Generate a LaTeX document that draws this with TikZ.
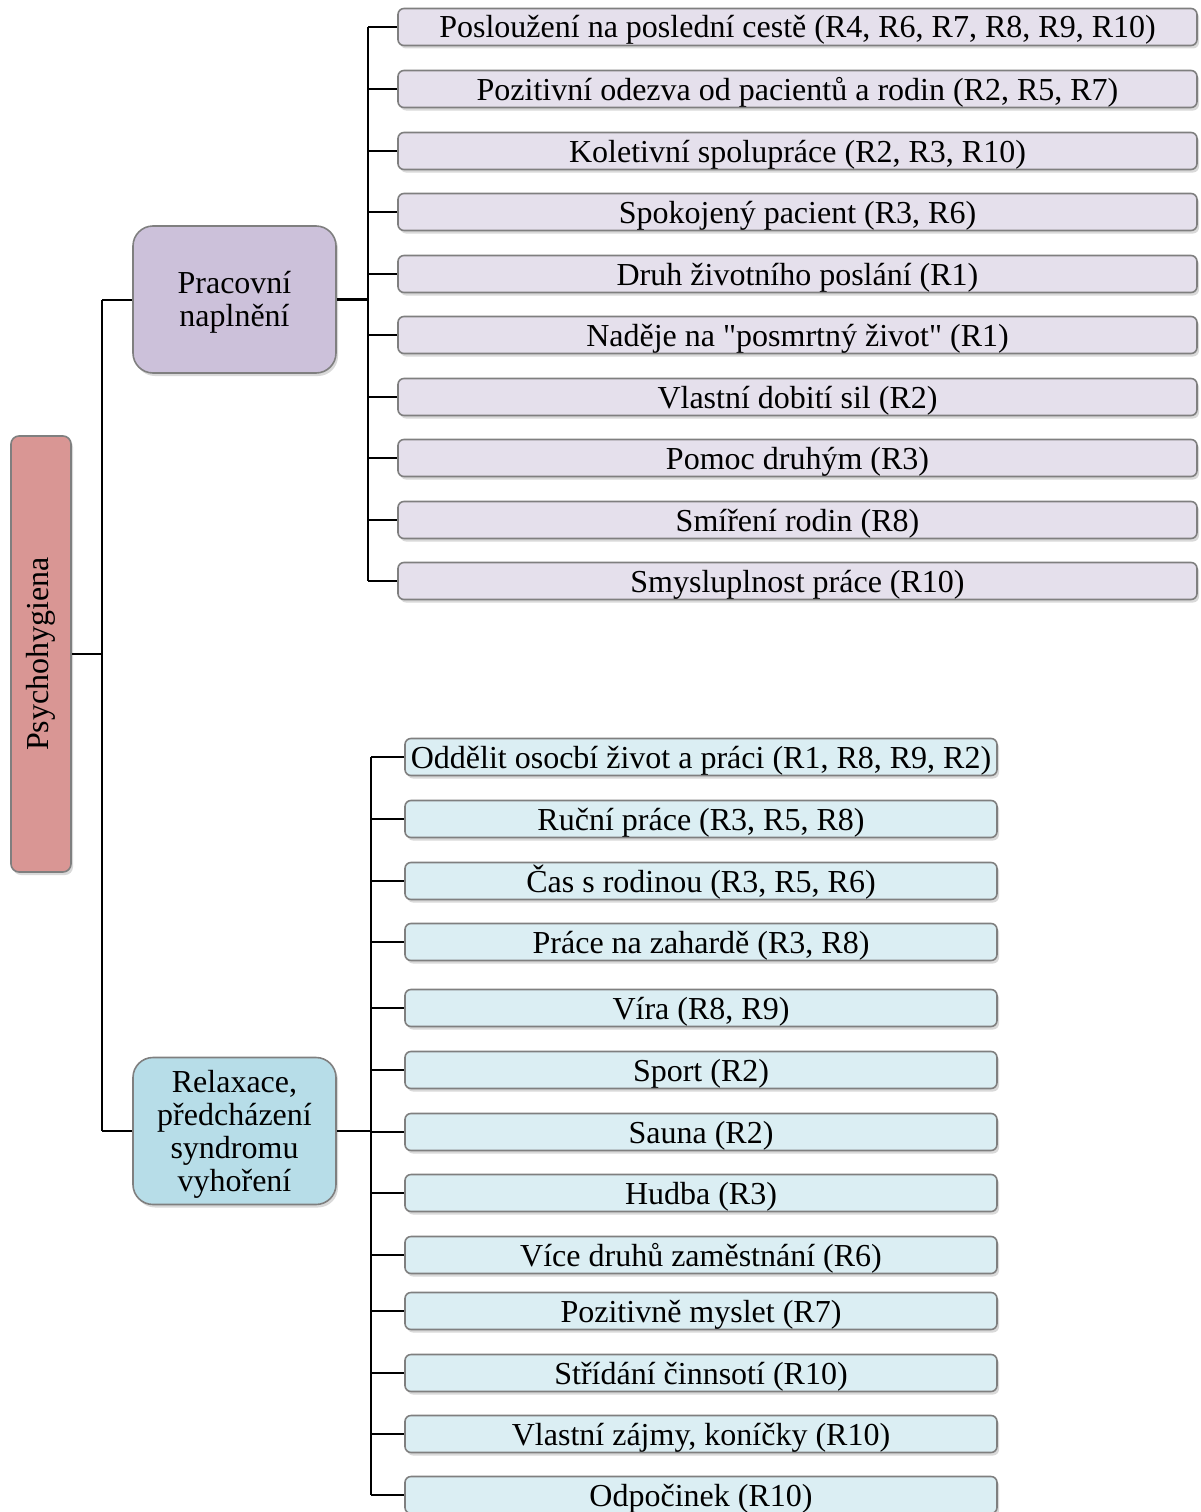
\documentclass[tikz,border=0pt]{standalone}
\usepackage{fontspec}
\setmainfont{Liberation Serif}[Ligatures=TeXOff]
\usetikzlibrary{shadows}
\definecolor{rootfill}{HTML}{D99694}
\definecolor{workfill}{HTML}{CCC1DA}
\definecolor{workleaf}{HTML}{E5E0EC}
\definecolor{relaxfill}{HTML}{B7DDE8}
\definecolor{relaxleaf}{HTML}{DBEEF3}
\definecolor{boxline}{HTML}{7F7F7F}
\begin{document}
\begin{tikzpicture}[x=1pt,y=-1pt,
  font=\fontsize{32}{33}\selectfont,
  box/.style={draw=boxline,line width=1.6pt,inner sep=0pt,align=center,
    drop shadow={shadow xshift=2pt,shadow yshift=-3pt,opacity=0.3}},
  rootbox/.style={box,fill=rootfill,rounded corners=8pt,minimum width=60pt,minimum height=436pt},
  midbox/.style={box,rounded corners=20pt,minimum width=203pt,minimum height=147pt},
  midlabel/.style={align=center,inner sep=0pt,yshift=-3pt},
  item/.style={box,rounded corners=6pt,minimum height=37pt,text height=28pt,text depth=6pt},
  workitem/.style={item,fill=workleaf,minimum width=799pt},
  relaxitem/.style={item,fill=relaxleaf,minimum width=592pt},
  conn/.style={draw=black,line width=2pt},
  trunk/.style={draw=black,line width=2.6pt}]
\useasboundingbox (0,0) rectangle (1200,1512);

% root
\node[rootbox] (root) at (41,654) {};
\node[rotate=90] (rootlabel) at (root.center) {Psychohygiena};

% two main branches
\node[midbox,fill=workfill] (work) at (234.5,299.5) {};
\node[midlabel] (worklabel) at (work.center) {Pracovní\\naplnění};
\node[midbox,fill=relaxfill] (relax) at (234.5,1131) {};
\node[midlabel] (relaxlabel) at (relax.center) {Relaxace,\\předcházení\\syndromu\\vyhoření};

% root connector
\coordinate (rbus) at (102,654);
\draw[conn] (root.east) -- (rbus);
\draw[conn] (rbus |- work.west) -- (rbus |- relax.west);
\draw[conn] (rbus |- work.west) -- (work.west);
\draw[conn] (rbus |- relax.west) -- (relax.west);

% work items
\foreach \n/\y/\t in {
  w1/27/{Posloužení na poslední cestě (R4, R6, R7, R8, R9, R10)},
  w2/89/{Pozitivní odezva od pacientů a rodin (R2, R5, R7)},
  w3/151/{Koletivní spolupráce (R2, R3, R10)},
  w4/212/{Spokojený pacient (R3, R6)},
  w5/274/{Druh životního poslání (R1)},
  w6/335/{Naděje na "posmrtný život" (R1)},
  w7/397/{Vlastní dobití sil (R2)},
  w8/458/{Pomoc druhým (R3)},
  w9/520/{Smíření rodin (R8)},
  w10/581/{Smysluplnost práce (R10)}}
  \node[workitem] (\n) at (797.5,\y) {\t};

\coordinate (wbus) at (368,299.5);
\draw[trunk] (work.east) -- (wbus);
\draw[conn] (wbus |- w1.west) -- (wbus |- w10.west);
\foreach \n in {w1,w2,w3,w4,w5,w6,w7,w8,w9,w10}
  \draw[conn] (wbus |- \n.west) -- (\n.west);

% relaxation items
\foreach \n/\y/\t in {
  r1/757/{Oddělit osocbí život a práci (R1, R8, R9, R2)},
  r2/819/{Ruční práce (R3, R5, R8)},
  r3/881/{Čas s rodinou (R3, R5, R6)},
  r4/942/{Práce na zahardě (R3, R8)},
  r5/1008/{Víra (R8, R9)},
  r6/1070/{Sport (R2)},
  r7/1132/{Sauna (R2)},
  r8/1193/{Hudba (R3)},
  r9/1255/{Více druhů zaměstnání (R6)},
  r10/1311/{Pozitivně myslet (R7)},
  r11/1373/{Střídání činnsotí (R10)},
  r12/1434/{Vlastní zájmy, koníčky (R10)},
  r13/1495/{Odpočinek (R10)}}
  \node[relaxitem] (\n) at (701,\y) {\t};

\coordinate (xbus) at (371,1131);
\draw[trunk] (relax.east) -- (xbus);
\draw[conn] (xbus |- r1.west) -- (xbus |- r13.west);
\foreach \n in {r1,r2,r3,r4,r5,r6,r7,r8,r9,r10,r11,r12,r13}
  \draw[conn] (xbus |- \n.west) -- (\n.west);
\end{tikzpicture}
\end{document}
